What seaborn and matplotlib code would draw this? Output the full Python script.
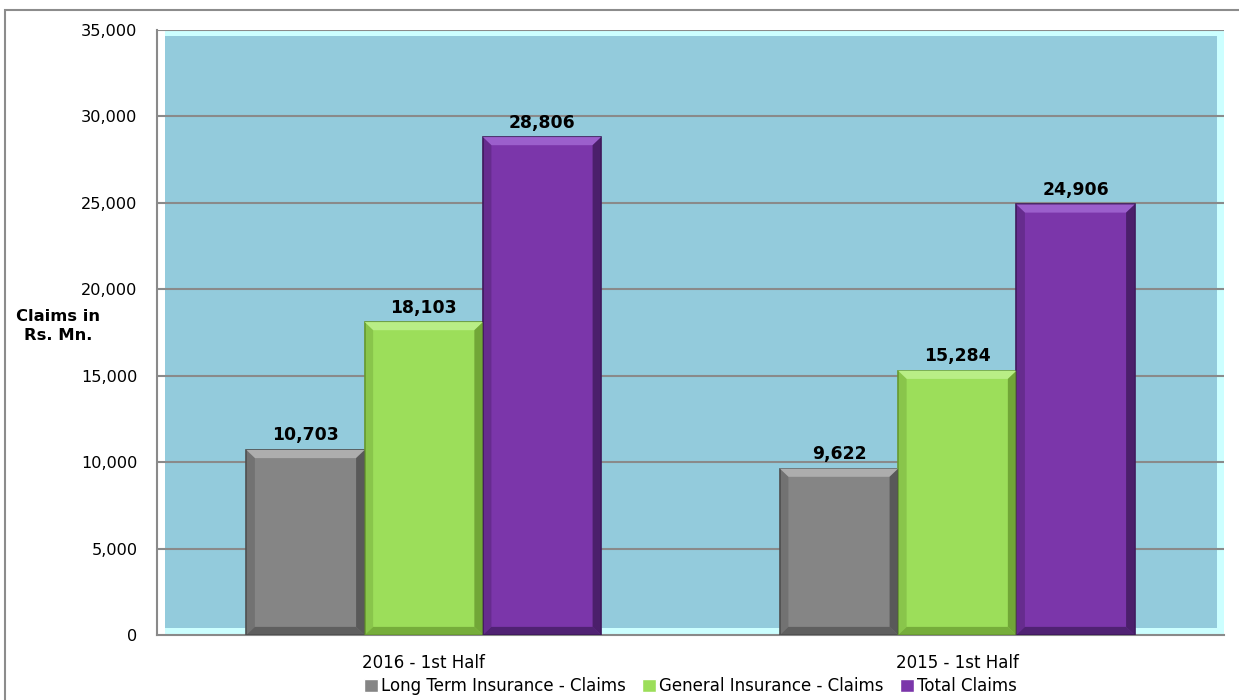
import pandas as pd
import matplotlib.pyplot as plt
import seaborn as sns
from matplotlib.patches import Rectangle, Polygon

# ====== DATA ======
periods = ["2016 - 1st Half", "2015 - 1st Half"]
series_names = ["Long Term Insurance - Claims", "General Insurance - Claims", "Total Claims"]
long_term = [10703, 9622]
general = [18103, 15284]
total = [28806, 24906]
y_ticks = [0, 5000, 10000, 15000, 20000, 25000, 30000, 35000]

colors = ["#858585", "#9CDE5A", "#7B36AA"]
light_colors = ["#ADADAD", "#B9EE86", "#9B5FCC"]
dark_colors = ["#4F4F4F", "#67992F", "#3F1A5C"]

df = pd.DataFrame({
    "period": periods * 3,
    "series": [s for s in series_names for _ in periods],
    "value": long_term + general + total,
})

sns.set_style("white")
plt.rcParams["font.family"] = ["DejaVu Sans"]
plt.rcParams["text.color"] = "black"
plt.rcParams["xtick.labelcolor"] = "black"
plt.rcParams["ytick.labelcolor"] = "black"

fig = plt.figure(figsize=(12.39, 7.0), dpi=100)
ax = fig.add_axes([157 / 1239, 65 / 700, 1067 / 1239, 605 / 700])

# outer chart border
fig.add_artist(Rectangle((5 / 1239, -0.05), 1.2, 690 / 700 + 0.05,
                         transform=fig.transFigure, fill=False,
                         edgecolor="#8c8c8c", lw=1.5))

# "3D" wall: cyan frame, blue back wall
ax.set_facecolor("#CCFFFF")
ax.add_patch(Rectangle((0, 0), 8 / 1067, 1, transform=ax.transAxes,
                       facecolor="white", edgecolor="none", zorder=0))
ax.add_patch(Rectangle((8 / 1067, 7 / 605), 1052 / 1067, 592 / 605,
                       transform=ax.transAxes, facecolor="#93CBDC",
                       edgecolor="none", zorder=0))

sns.barplot(data=df, x="period", y="value", hue="series", palette=colors,
            width=0.665, gap=0, ax=ax, zorder=3, saturation=1)

# bevel look on each bar
dx, dy = 0.016, 470
for i, cont in enumerate(ax.containers):
    for p in cont:
        p.set_edgecolor(dark_colors[i])
        p.set_linewidth(1.2)
        x0, w, h = p.get_x(), p.get_width(), p.get_height()
        x1 = x0 + w
        ax.add_patch(Polygon([(x0, h), (x1, h), (x1 - dx, h - dy), (x0 + dx, h - dy)],
                             facecolor=light_colors[i], edgecolor="none", zorder=4))
        ax.add_patch(Polygon([(x1, h), (x1, 0), (x1 - dx, dy), (x1 - dx, h - dy)],
                             facecolor=dark_colors[i], edgecolor="none", zorder=4, alpha=0.8))
        ax.add_patch(Polygon([(x0, 0), (x1, 0), (x1 - dx, dy), (x0 + dx, dy)],
                             facecolor=dark_colors[i], edgecolor="none", zorder=4, alpha=0.7))
        ax.add_patch(Polygon([(x0, h), (x0, 0), (x0 + dx, dy), (x0 + dx, h - dy)],
                             facecolor=dark_colors[i], edgecolor="none", zorder=4, alpha=0.35))
    ax.bar_label(cont, labels=[f"{v.get_height():,.0f}" for v in cont],
                 padding=4, fontsize=12.4, fontweight="bold", color="black")

ax.set_ylim(0, 35000)
ax.set_xlim(-0.5, 1.5)
ax.set_yticks(y_ticks)
ax.set_yticklabels([f"{t:,}" for t in y_ticks], fontsize=11.6)
for t in y_ticks[1:]:
    ax.axhline(t, color="#8a8a8a", lw=1.5, zorder=1)

ax.set_xticks([0, 1])
ax.set_xticklabels(periods, fontsize=12)
ax.set_xticks([-0.5, 0.5, 1.5], minor=True)
ax.tick_params(axis="x", which="major", length=0, pad=14)
ax.tick_params(axis="x", which="minor", length=6, color="#8a8a8a", width=1.2)
ax.tick_params(axis="y", length=8, color="#8a8a8a", width=1.2, pad=6)

ax.set_xlabel("")
ax.set_ylabel("")
fig.text(58 / 1239, 1 - 326 / 700, "Claims in\nRs. Mn.", ha="center", va="center",
         fontsize=11.8, fontweight="bold", linespacing=1.4)

for s in ["top", "right"]:
    ax.spines[s].set_visible(False)
for s in ["left", "bottom"]:
    ax.spines[s].set_color("#8a8a8a")
    ax.spines[s].set_linewidth(1.5)

handles, labels = ax.get_legend_handles_labels()
ax.legend(handles, labels, loc="center", bbox_to_anchor=(0.5, -0.085),
          ncol=3, frameon=False, fontsize=12, handlelength=0.8,
          handleheight=0.8, handletextpad=0.2, columnspacing=1.0)

plt.savefig("out.png", dpi=100)
plt.close()
